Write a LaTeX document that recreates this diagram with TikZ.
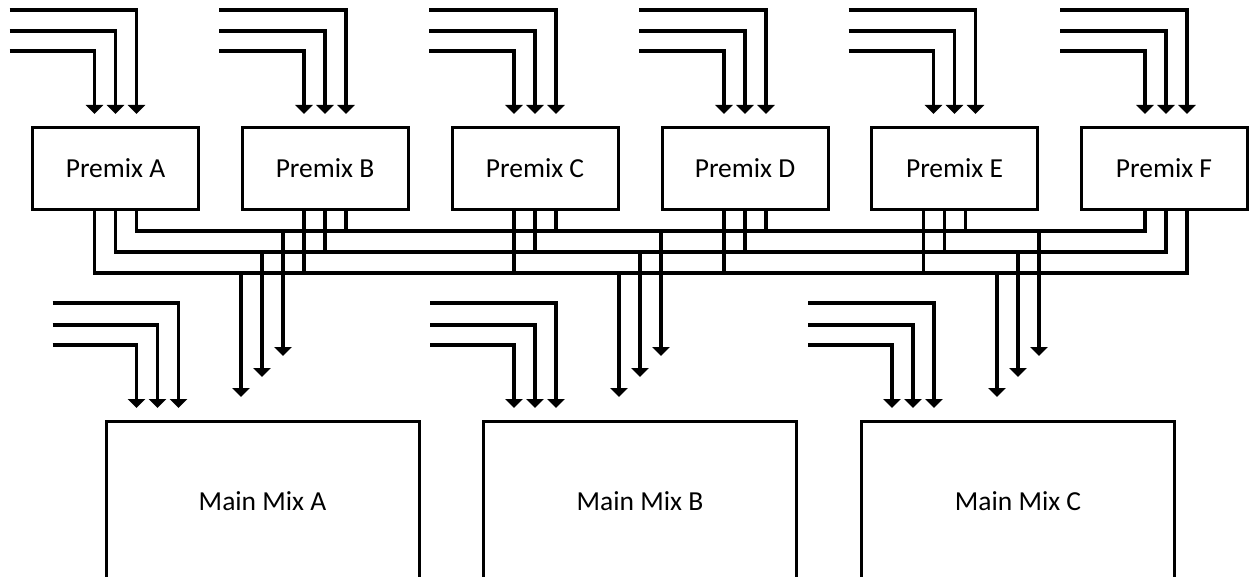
\documentclass[tikz,border=0pt]{standalone}
\usepackage{fontspec}
\setmainfont{Carlito}
\usetikzlibrary{arrows.meta}
\begin{document}
\begin{tikzpicture}[x=1pt,y=-1pt,
  lw/.style={line width=3.2pt},
  pbox/.style={draw,line width=3pt,minimum width=166pt,minimum height=82pt,inner sep=0pt,font=\fontsize{27.5}{33}\selectfont},
  mbox/.style={pbox,minimum width=313pt,minimum height=160pt},
  arr/.style={lw,-{Triangle[width=17pt,length=9pt]}},
]
\useasboundingbox (0,0) rectangle (1249,577);

% premix boxes
\node[pbox] (pA) at (115.5,168.5) {Premix A};
\node[pbox] (pB) at (325,168.5) {Premix B};
\node[pbox] (pC) at (535,168.5) {Premix C};
\node[pbox] (pD) at (745,168.5) {Premix D};
\node[pbox] (pE) at (954.5,168.5) {Premix E};
\node[pbox] (pF) at (1164,168.5) {Premix F};

% main mix boxes
\node[mbox] (mA) at (262.5,501.5) {Main Mix A};
\node[mbox] (mB) at (640,501.5) {Main Mix B};
\node[mbox] (mC) at (1018,501.5) {Main Mix C};

% bus levels
\coordinate (bT) at (640,231);
\coordinate (bM) at (640,252);
\coordinate (bB) at (640,273);

% premix inputs and output points
\foreach \n/\i/\o in {A/0/0,B/0/0,C/0/0,D/0/0,E/0/-10,F/2/2}{
  \coordinate (pt\n1) at ([xshift={(\i-21)*1pt}]p\n.north);
  \coordinate (pt\n2) at ([xshift={\i*1pt}]p\n.north);
  \coordinate (pt\n3) at ([xshift={(\i+21)*1pt}]p\n.north);
  \coordinate (ps\n1) at ([xshift={(\i-106)*1pt},yshift=75pt]p\n.north);
  \coordinate (ps\n2) at ([xshift={(\i-106)*1pt},yshift=95pt]p\n.north);
  \coordinate (ps\n3) at ([xshift={(\i-106)*1pt},yshift=116pt]p\n.north);
  \draw[arr,shorten >=12pt] (ps\n1) -| (pt\n1);
  \draw[arr,shorten >=12pt] (ps\n2) -| (pt\n2);
  \draw[arr,shorten >=12pt] (ps\n3) -| (pt\n3);
  \coordinate (po\n1) at ([xshift={(\o-21)*1pt}]p\n.south);
  \coordinate (po\n2) at ([xshift={\o*1pt}]p\n.south);
  \coordinate (po\n3) at ([xshift={(\o+21)*1pt}]p\n.south);
}

% buses
\draw[lw] (poA3) |- (bT) -| (poF1);
\draw[lw] (poA2) |- (bM) -| (poF2);
\draw[lw] (poA1) |- (bB) -| (poF3);
\foreach \n in {B,C,D,E}{
  \draw[lw] (po\n1) -- (po\n1 |- bB);
  \draw[lw] (po\n2) -- (po\n2 |- bM);
  \draw[lw] (po\n3) -- (po\n3 |- bT);
}

% taps and main mix inputs
\foreach \n/\d in {A/-0.5,B/0,C/0}{
  \coordinate (tp\n1) at ([xshift={(\d-21)*1pt},yshift=23pt]m\n.north);
  \coordinate (tp\n2) at ([xshift={\d*1pt},yshift=43pt]m\n.north);
  \coordinate (tp\n3) at ([xshift={(\d+21)*1pt},yshift=64pt]m\n.north);
  \draw[arr] (tp\n1 |- bB) -- (tp\n1);
  \draw[arr] (tp\n2 |- bM) -- (tp\n2);
  \draw[arr] (tp\n3 |- bT) -- (tp\n3);
  \coordinate (mt\n1) at ([xshift=-126pt]m\n.north);
  \coordinate (mt\n2) at ([xshift=-105pt]m\n.north);
  \coordinate (mt\n3) at ([xshift=-84pt]m\n.north);
  \coordinate (ms\n1) at ([xshift=-210pt,yshift=75pt]m\n.north);
  \coordinate (ms\n2) at ([xshift=-210pt,yshift=95pt]m\n.north);
  \coordinate (ms\n3) at ([xshift=-210pt,yshift=117pt]m\n.north);
  \draw[arr,shorten >=12pt] (ms\n1) -| (mt\n1);
  \draw[arr,shorten >=12pt] (ms\n2) -| (mt\n2);
  \draw[arr,shorten >=12pt] (ms\n3) -| (mt\n3);
}
\end{tikzpicture}
\end{document}
